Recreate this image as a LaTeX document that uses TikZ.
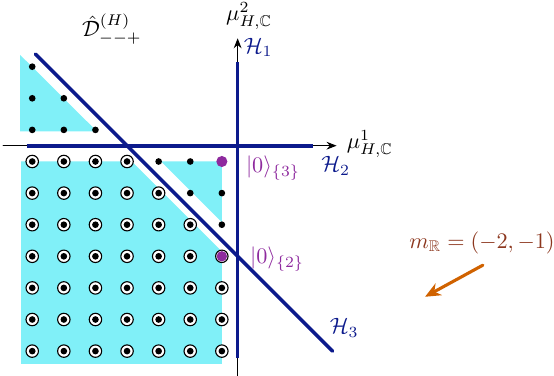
\documentclass[tikz,border=0pt]{standalone}
\usepackage{amsmath,amssymb}
\usetikzlibrary{arrows.meta}
\definecolor{xanhdam}{RGB}{12,26,140}
\definecolor{xanhnhat}{RGB}{128,240,248}
\definecolor{tim}{RGB}{142,42,158}
\definecolor{nau}{RGB}{140,55,30}
\definecolor{cam}{RGB}{208,98,0}
\begin{document}
\begin{tikzpicture}[x=0.5cm, y=0.5cm, line join=round, line cap=round,
	vung/.style={fill=xanhnhat},
	tuong/.style={draw=xanhdam, line width=1.65pt, line cap=butt},
	truc/.style={line width=0.45pt, -{Stealth[length=4.5pt,width=3.5pt]}},
	cham/.style={fill=black},
	vong/.style={draw=black, fill=white, line width=0.5pt}]
	\useasboundingbox (-7.52,-7.26) rectangle (10.01,4.61);
	
	% Các vùng tô màu
	\fill[vung] (-6.88,2.87) -- (-6.88,0.45) -- (-4.45,0.45) -- cycle;
	\fill[vung] (-6.85,-0.5) -- (-3.35,-0.5) -- (-0.5,-3.35) -- (-0.5,-6.9) -- (-6.85,-6.9) -- cycle;
	\fill[vung] (-2.42,-0.5) -- (-0.5,-0.5) -- (-0.5,-2.42) -- cycle;
	
	% Định nghĩa toạ độ các trục và các tường
	\coordinate (Xa) at (-7.42,0);
	\coordinate (Xb) at (3.13,0);
	\coordinate (Ya) at (0,-7.4);
	\coordinate (Yb) at (0,3.4);
	\coordinate (H1a) at (0,-6.72);
	\coordinate (H1b) at (0,2.66);
	\coordinate (H2a) at (-6.68,0);
	\coordinate (H2b) at (2.39,0);
	\coordinate (H3a) at (-6.4,2.9);
	\coordinate (H3b) at (3.0,-6.5);
	
	% Vẽ các trục (nét mảnh)
	\draw[truc] (Xa) -- (Xb);
	\draw[truc] (Ya) -- (Yb);
	
	% Vẽ các tường (nét đậm)
	\draw[tuong] (H1a) -- (H1b);
	\draw[tuong] (H2a) -- (H2b);
	\draw[tuong, line cap=round] (H3a) -- (H3b);
	
	% Các điểm phía trên trục hoành
	\foreach \p in {(-6.5,2.5), (-6.5,1.5), (-5.5,1.5), (-6.5,0.5), (-5.5,0.5), (-4.5,0.5)}
		\fill[cham] \p circle (1.5pt);
	
	% Các điểm phía dưới trục hoành
	\foreach \i in {1,...,7}
	\foreach \j in {1,...,7}{
		\pgfmathtruncatemacro{\tong}{\i+\j}
		\ifnum\tong>4
			\draw[vong] (-\i+0.5,-\j+0.5) circle (2.8pt);
		\fi
		\fill[cham] (-\i+0.5,-\j+0.5) circle (1.5pt);
	}
	
	% Hai chân không
	\coordinate (K3) at (-0.5,-0.5);
	\coordinate (K2) at (-0.5,-3.5);
	\fill[tim] (K3) circle (2.5pt);
	\fill[tim] (K2) circle (2.35pt);
	
	% Gán nhãn
	\node (mu2) at (0.36,4.1) {$\mu^2_{H,\mathbb{C}}$};
	\node (mu1) at (4.18,0.05) {$\mu^1_{H,\mathbb{C}}$};
	\node[text=xanhdam] (h1) at (0.65,3.1) {$\mathcal{H}_1$};
	\node[text=xanhdam] (h2) at (3.1,-0.64) {$\mathcal{H}_2$};
	\node[text=xanhdam] (h3) at (3.37,-5.77) {$\mathcal{H}_3$};
	\node[text=tim] (v3) at (1.12,-0.71) {$|0\rangle_{\{3\}}$};
	\node[text=tim] (v2) at (1.25,-3.59) {$|0\rangle_{\{2\}}$};
	\node (D) at (-3.98,3.69) {$\hat{\mathcal{D}}^{(H)}_{--+}$};
	\node[text=nau] (m) at (7.73,-3.08) {$m_{\mathbb{R}}=(-2,-1)$};
	
	% Mũi tên khối lượng
	\coordinate (Ma) at (7.76,-3.78);
	\coordinate (Mb) at (5.93,-4.78);
	\draw[cam, line width=1.4pt, -{Stealth[length=7pt,width=6pt]}] (Ma) -- (Mb);
\end{tikzpicture}
\end{document}
